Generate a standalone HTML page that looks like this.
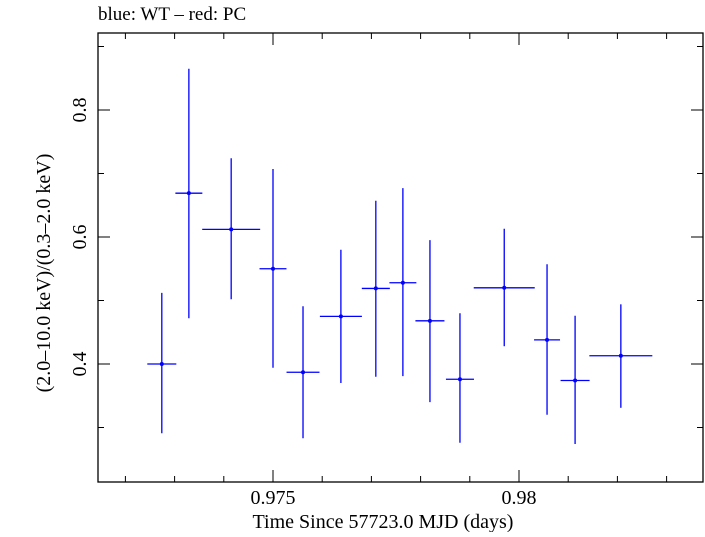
<!DOCTYPE html>
<html><head><meta charset="utf-8"><style>
body{margin:0;background:#fff}
svg text{font-family:"Liberation Serif",serif;fill:#000}
</style></head><body>
<svg id="chart" width="705" height="532">
<text x="98" y="20" font-size="19">blue: WT – red: PC</text>
<rect x="98" y="33" width="605" height="449" fill="none" stroke="#000" stroke-width="1.3"/>
<g id="ticks"></g>
<g id="marks"></g>
<text x="383" y="528" font-size="20" text-anchor="middle">Time Since 57723.0 MJD (days)</text>
<text transform="translate(50,273) rotate(-90)" font-size="20" text-anchor="middle">(2.0–10.0 keV)/(0.3–2.0 keV)</text>
</svg>
<script>
const xCenters=[0.97274,0.97329,0.97415,0.975,0.97561,0.97638,0.97709,0.97764,0.97819,0.9788,0.9797,0.98057,0.98114,0.98207];
const xHalfWidths=[0.000295,0.000274,0.000589,0.000274,0.000335,0.000427,0.000285,0.000274,0.000295,0.000285,0.00062,0.000264,0.000295,0.00064];
const ratios=[0.400,0.669,0.612,0.550,0.387,0.475,0.519,0.528,0.468,0.376,0.520,0.438,0.374,0.413];
const ratioHigh=[0.512,0.865,0.724,0.707,0.491,0.580,0.657,0.677,0.595,0.480,0.613,0.557,0.476,0.494];
const ratioLow=[0.291,0.472,0.502,0.394,0.283,0.370,0.380,0.381,0.340,0.276,0.428,0.320,0.274,0.331];
const xTickLabels=["0.975","0.98"];
const yTickLabels=["0.4","0.6","0.8"];
const L=98,R=703,T=33,B=482;
const xs=v=>273+(v-0.975)*49200;
const ys=v=>364-(v-0.4)*635;
const NS="http://www.w3.org/2000/svg";
function mk(tag,attrs,parent){const e=document.createElementNS(NS,tag);for(const k in attrs)e.setAttribute(k,attrs[k]);parent.appendChild(e);return e;}
const tk=document.getElementById('ticks');
for(let i=-3;i<=13;i++){const v=0.972+i*0.001;const x=xs(v);if(x<=L+1||x>=R-1)continue;
 const major=Math.abs(Math.round(v*1000)%5)===0;const len=major?12:6;
 const a=mk('line',{x1:x,x2:x,y1:B,y2:B-len,stroke:'#000','stroke-width':1},tk);
 
 
 const b=mk('line',{x1:x,x2:x,y1:T,y2:T+len,stroke:'#000','stroke-width':1},tk);
 
 }
xTickLabels.forEach(s=>{const t=mk('text',{x:xs(parseFloat(s)),y:504,'font-size':20,'text-anchor':'middle'},tk);t.textContent=s;
 
 });
for(let i=2;i<=9;i++){const v=i/10;const y=ys(v);if(y<=T||y>=B)continue;const major=(i%2===0);const len=major?12:6;
 const a=mk('line',{x1:L,x2:L+len,y1:y,y2:y,stroke:'#000','stroke-width':1},tk);
 
 
 const b=mk('line',{x1:R,x2:R-len,y1:y,y2:y,stroke:'#000','stroke-width':1},tk);
 
 }
yTickLabels.forEach(s=>{const y=ys(parseFloat(s));const t=mk('text',{transform:`translate(86,${y}) rotate(-90)`,'font-size':20,'text-anchor':'middle'},tk);t.textContent=s;
 
 });
const mg=document.getElementById('marks');
xCenters.forEach((c,i)=>{
 const g=mk('g',{},mg);
 
 
 mk('line',{x1:xs(c-xHalfWidths[i]),x2:xs(c+xHalfWidths[i]),y1:ys(ratios[i]),y2:ys(ratios[i]),stroke:'#0000ff','stroke-width':1.3},g);
 mk('line',{x1:xs(c),x2:xs(c),y1:ys(ratioLow[i]),y2:ys(ratioHigh[i]),stroke:'#0000ff','stroke-width':1.3},g);
 mk('circle',{cx:xs(c),cy:ys(ratios[i]),r:2,fill:'#0000ff'},g);
});
</script>
</body></html>
